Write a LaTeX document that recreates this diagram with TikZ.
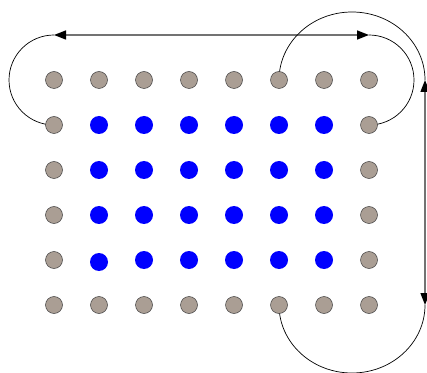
\documentclass[tikz,border=0pt]{standalone}
\usetikzlibrary{arrows.meta,backgrounds}
\definecolor{dotgray}{RGB}{170,158,148}
\definecolor{linegray}{RGB}{115,115,115}
\tikzset{
  graydot/.style={circle,draw=black!75,line width=0.5pt,fill=dotgray,minimum size=17pt,inner sep=0pt},
  bluedot/.style={circle,fill=blue,minimum size=18pt,inner sep=0pt},
  tiptri/.tip={Triangle[length=12pt,width=9pt,color=black]},
  straightlink/.style={draw=linegray,line width=1.4pt,tiptri-tiptri},
  arclink/.style={draw=black,line width=0.7pt}
}
\begin{document}
\begin{tikzpicture}[x=1pt,y=1pt]
\useasboundingbox (0,0) rectangle (427,372);
% dots
\foreach \c in {1,...,8}{
  \foreach \r in {1,...,6}{
    \pgfmathsetmacro{\xx}{54+45*(\c-1)}
    \pgfmathsetmacro{\yy}{292-45*(\r-1)}
    \pgfmathtruncatemacro{\isblue}{(\c>1)&&(\c<8)&&(\r>1)&&(\r<6)}
    \ifnum\isblue=1
      \ifnum\c=2 \ifnum\r=5 \pgfmathsetmacro{\yy}{110}\fi\fi
      \node[bluedot] (d-\c-\r) at (\xx,\yy) {};
    \else
      \node[graydot] (d-\c-\r) at (\xx,\yy) {};
    \fi
  }
}
\coordinate (hl) at (54,337);
\coordinate (hr) at (369,337);
\coordinate (vt) at (425,292);
\coordinate (vb) at (425,67);
\begin{pgfonlayer}{background}
  \draw[straightlink] (hl) -- (hr);
  \draw[straightlink] (vt) -- (vb);
  \draw[arclink] (hl) arc[start angle=90,end angle=270,radius=45pt];
  \draw[arclink] (hr) arc[start angle=90,end angle=-90,radius=45pt];
  \draw[arclink] (d-6-1.center) arc[start angle=180,end angle=0,x radius=73pt,y radius=68pt];
  \draw[arclink] (d-6-6.center) arc[start angle=180,end angle=360,x radius=73pt,y radius=68pt];
\end{pgfonlayer}
\end{tikzpicture}
\end{document}
